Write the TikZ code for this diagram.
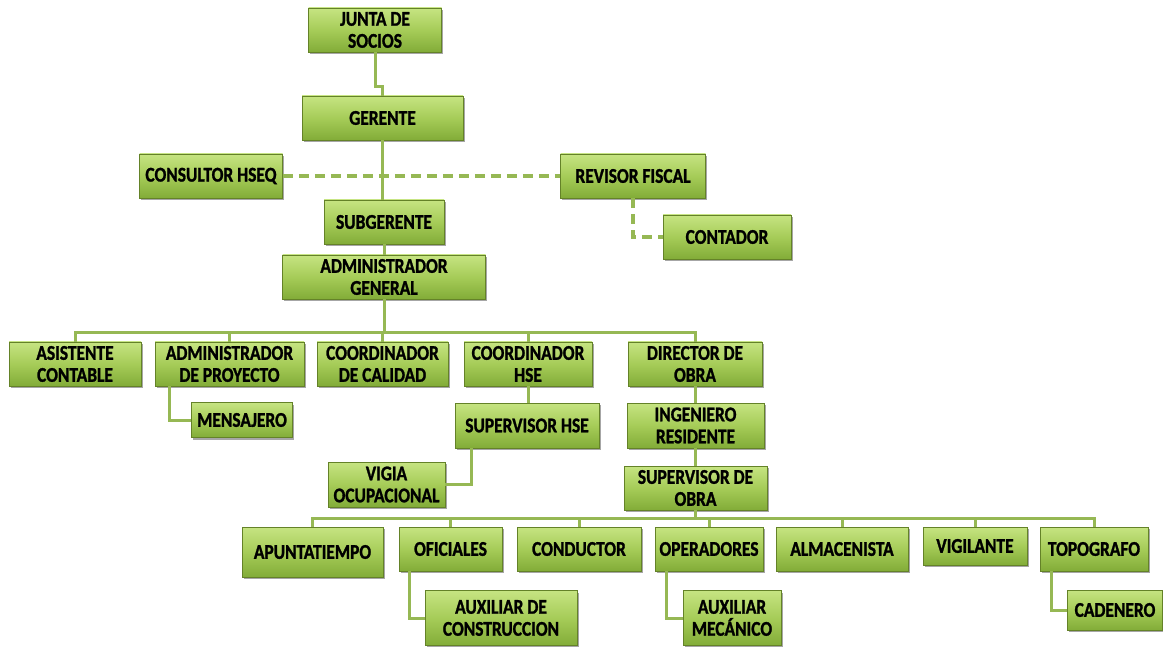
\documentclass[tikz,border=0pt]{standalone}
\usepackage{fontspec}
\newfontfamily\boxfont{Carlito Bold}[FakeStretch=0.83, FakeBold=1.2]
\usetikzlibrary{shadows,calc}
\definecolor{boxtop}{RGB}{198,228,130}
\definecolor{boxmid}{RGB}{166,204,88}
\definecolor{boxbot}{RGB}{130,172,56}
\definecolor{boxline}{RGB}{100,130,40}
\definecolor{linec}{RGB}{150,184,84}
\tikzset{
  box/.style={draw=boxline, line width=0.7pt, top color=boxtop, bottom color=boxbot, middle color=boxmid,
    align=center, inner sep=0pt, font=\boxfont\fontsize{21}{22}\selectfont, text=black,
    drop shadow={shadow xshift=1.5pt, shadow yshift=-2pt, fill=black, opacity=0.35}},
  conn/.style={draw=linec, line width=3pt},
  dconn/.style={draw=linec, line width=3.5pt, dash pattern=on 10pt off 6pt},
}
\begin{document}
\begin{tikzpicture}[x=1pt,y=-1pt]
\useasboundingbox (0,0) rectangle (1163,647);
\coordinate (b1) at (0,333);
\coordinate (b2) at (0,518);

\node[box, minimum width=133, minimum height=44] (junta) at (375,30) {JUNTA DE\\SOCIOS};
\node[box, minimum width=161, minimum height=44] (gerente) at (382.5,118) {GERENTE};
\node[box, minimum width=143, minimum height=44] (consultor) at (211,176) {CONSULTOR HSEQ};
\node[box, minimum width=145, minimum height=44] (revisor) at (633,176) {REVISOR FISCAL};
\node[box, minimum width=120, minimum height=44] (subg) at (384,222) {SUBGERENTE};
\node[box, minimum width=128, minimum height=44] (contador) at (727,237) {CONTADOR};
\node[box, minimum width=203, minimum height=44] (admgen) at (384,277) {ADMINISTRADOR\\GENERAL};

\node[box, minimum width=132, minimum height=44] (asist) at (75,364) {ASISTENTE\\CONTABLE};
\node[box, minimum width=149, minimum height=44] (admproy) at (229.5,364) {ADMINISTRADOR\\DE PROYECTO};
\node[box, minimum width=131, minimum height=44] (coordcal) at (382.5,364) {COORDINADOR\\DE CALIDAD};
\node[box, minimum width=128, minimum height=44] (coordhse) at (528,364) {COORDINADOR\\HSE};
\node[box, minimum width=134, minimum height=44] (director) at (695,364) {DIRECTOR DE\\OBRA};

\node[box, minimum width=101, minimum height=35] (mensajero) at (242,420) {MENSAJERO};
\node[box, minimum width=144, minimum height=45] (suphse) at (527,425.5) {SUPERVISOR HSE};
\node[box, minimum width=137, minimum height=45] (ingres) at (695.5,425.5) {INGENIERO\\RESIDENTE};
\node[box, minimum width=117, minimum height=45] (vigia) at (386.5,484.5) {VIGIA\\OCUPACIONAL};
\node[box, minimum width=143, minimum height=44] (supobra) at (695.5,488) {SUPERVISOR DE\\OBRA};

\node[box, minimum width=141, minimum height=50] (apunt) at (312.5,552) {APUNTATIEMPO};
\node[box, minimum width=103, minimum height=44] (ofic) at (450.5,549) {OFICIALES};
\node[box, minimum width=124, minimum height=44] (conductor) at (579,549) {CONDUCTOR};
\node[box, minimum width=108, minimum height=44] (operad) at (709,549) {OPERADORES};
\node[box, minimum width=132, minimum height=44] (almac) at (842,549) {ALMACENISTA};
\node[box, minimum width=104, minimum height=38] (vigil) at (975,546) {VIGILANTE};
\node[box, minimum width=108, minimum height=44] (topo) at (1094,549) {TOPOGRAFO};

\node[box, minimum width=152, minimum height=55] (auxcons) at (501,618) {AUXILIAR DE\\CONSTRUCCION};
\node[box, minimum width=98, minimum height=55] (auxmec) at (732,618) {AUXILIAR\\MECÁNICO};
\node[box, minimum width=95, minimum height=40] (cadenero) at (1115,610) {CADENERO};

% connectors
\draw[conn] (junta.south) -- ++(0,34) -| (gerente.north);
\draw[conn] (gerente.south) -- (gerente.south |- subg.north);
\draw[dconn] (consultor.east) -- (revisor.west);
\draw[dconn] (revisor.south) |- (contador.west);
\draw[conn] (subg.south -| admgen.north) -- (admgen.north);
\foreach \c in {asist,admproy,coordcal,coordhse,director}
  \draw[conn] (admgen.south) -- (admgen.south |- b1) -| (\c.north);
\draw[conn] ($(admproy.south west)+(15,0)$) |- (mensajero.west);
\draw[conn] (coordhse.south) -- (coordhse.south |- suphse.north);
\draw[conn] ($(suphse.south west)+(17,0)$) |- (vigia.east);
\draw[conn] (director.south) -- (director.south |- ingres.north);
\draw[conn] (ingres.south) -- (ingres.south |- supobra.north);
\foreach \c in {apunt,ofic,conductor,operad,almac,vigil,topo}
  \draw[conn] (supobra.south) -- (supobra.south |- b2) -| (\c.north);
\draw[conn] ($(ofic.south west)+(11,0)$) |- (auxcons.west);
\draw[conn] ($(operad.south west)+(12,0)$) |- (auxmec.west);
\draw[conn] ($(topo.south west)+(12,0)$) |- (cadenero.west);
\end{tikzpicture}
\end{document}
